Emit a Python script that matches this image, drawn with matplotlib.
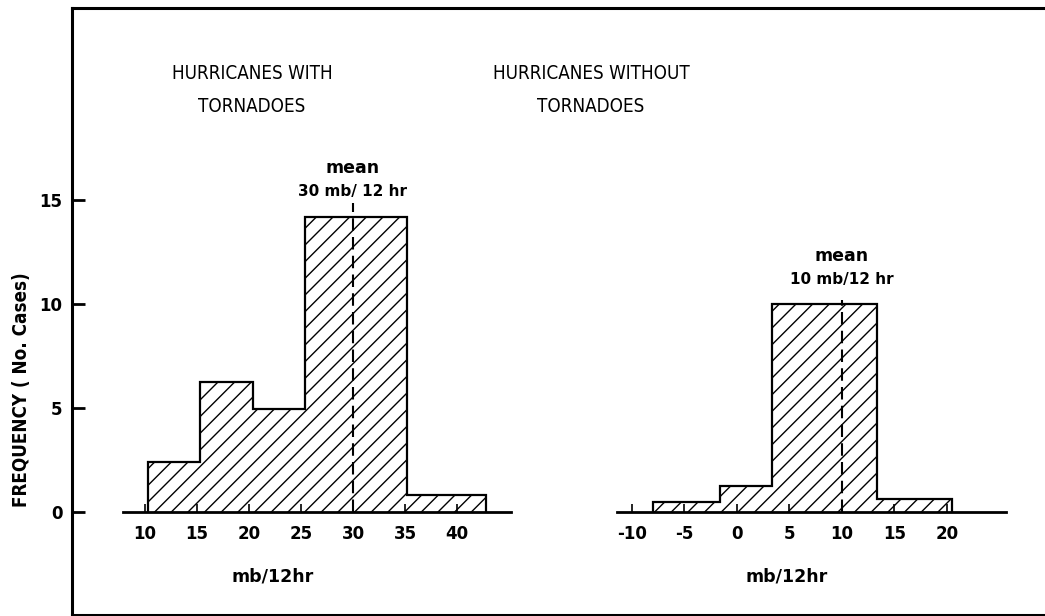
"""
Pressure-fall histograms: hurricanes with vs without tornadoes.
"""

import matplotlib
matplotlib.use('Agg')
import matplotlib.pyplot as plt

# -------------------------------------------------------------------------
# Data
# -------------------------------------------------------------------------
with_edges = [10.3, 15.3, 20.4, 25.4, 35.2, 42.8]
with_counts = [2.4, 6.25, 4.95, 14.2, 0.8]
with_mean = 30
with_ticks = [10, 15, 20, 25, 30, 35, 40]

without_edges = [-8.0, -1.6, 3.3, 13.3, 20.5]
without_counts = [0.5, 1.25, 10.0, 0.62]
without_mean = 10
without_ticks = [-10, -5, 0, 5, 10, 15, 20]

freq_ticks = [0, 5, 10, 15]

titles = ["HURRICANES WITH\nTORNADOES", "HURRICANES WITHOUT\nTORNADOES"]
mean_labels = ["30 mb/ 12 hr", "10 mb/12 hr"]

W, H = 1045, 616
YLIM = (-4.95, 24.23)

plt.rcParams['font.family'] = ['DejaVu Sans']
plt.rcParams['hatch.linewidth'] = 1.0
plt.rcParams['axes.unicode_minus'] = False


def px_rect(x0, y0, x1, y1):
    """Pixel box (top-left origin) -> figure fraction rect."""
    return [x0 / W, (H - y1) / H, (x1 - x0) / W, (y1 - y0) / H]


fig = plt.figure(figsize=(W / 100, H / 100), dpi=100)

# Outer frame carrying the frequency axis
frame = fig.add_axes(px_rect(72, 8, 1080, 615))
frame.set_ylim(*YLIM)
frame.set_xlim(0, 1)
frame.patch.set_alpha(0)
frame.spines['right'].set_visible(False)
for s in ('left', 'top', 'bottom'):
    frame.spines[s].set_linewidth(2.2)
frame.set_xticks([])
frame.set_yticks(freq_ticks)
frame.tick_params(axis='y', direction='in', length=9.5, width=2,
                  pad=7, labelsize=12)
for lbl in frame.get_yticklabels():
    lbl.set_fontweight('bold')
fig.text(22 / W, 1 - 390 / H, "FREQUENCY ( No. Cases)", rotation=90,
         ha='center', va='center', fontsize=13.5, fontweight='bold',
         fontstretch='condensed')


def draw_panel(rect, xlim, edges, counts, mean, mean_top, ticks, bounds,
               mean_label, label_y, xlabel_x):
    ax = fig.add_axes(rect)
    ax.patch.set_alpha(0)
    ax.set_xlim(*xlim)
    ax.set_ylim(*YLIM)
    for s in ('left', 'right', 'top'):
        ax.spines[s].set_visible(False)
    ax.spines['bottom'].set_position(('data', 0))
    ax.spines['bottom'].set_bounds(*bounds)
    ax.spines['bottom'].set_linewidth(2)
    ax.set_yticks([])
    ax.set_xticks(ticks)
    ax.tick_params(axis='x', direction='in', length=6, width=1.2,
                   pad=9, labelsize=12)
    for lbl in ax.get_xticklabels():
        lbl.set_fontweight('bold')
    ax.set_xlabel("mb/12hr", fontsize=12.5, fontweight='bold')
    ax.xaxis.set_label_coords(xlabel_x, 0.078)

    ax.stairs(counts, edges, baseline=0, fill=True, hatch='//',
              facecolor='white', edgecolor='black', linewidth=1.6)
    ax.vlines(mean, 0, mean_top, colors='black', linestyles=(0, (6, 3)),
              linewidth=1.5)
    ax.text(mean, label_y + 1.1, "mean", ha='center', va='center',
            fontsize=12.5, fontweight='bold')
    ax.text(mean, label_y, mean_label, ha='center', va='center',
            fontsize=11, fontweight='bold')
    return ax


draw_panel(px_rect(100, 8, 520, 615), (5.67, 46.06),
           with_edges, with_counts, with_mean, 14.86, with_ticks,
           (7.9, 45.2), mean_labels[0], 15.43, 0.41)
draw_panel(px_rect(590, 8, 1040, 615), (-14.0, 28.86),
           without_edges, without_counts, without_mean, 10.2, without_ticks,
           (-11.4, 25.6), mean_labels[1], 11.2, 0.438)

for x, title in zip((252, 591), titles):
    fig.text(x / W, 1 - 90 / H, title, ha='center', va='center',
             fontsize=13.5, fontstretch='condensed', linespacing=1.9)

fig.savefig('out.png', dpi=100)
plt.close(fig)
